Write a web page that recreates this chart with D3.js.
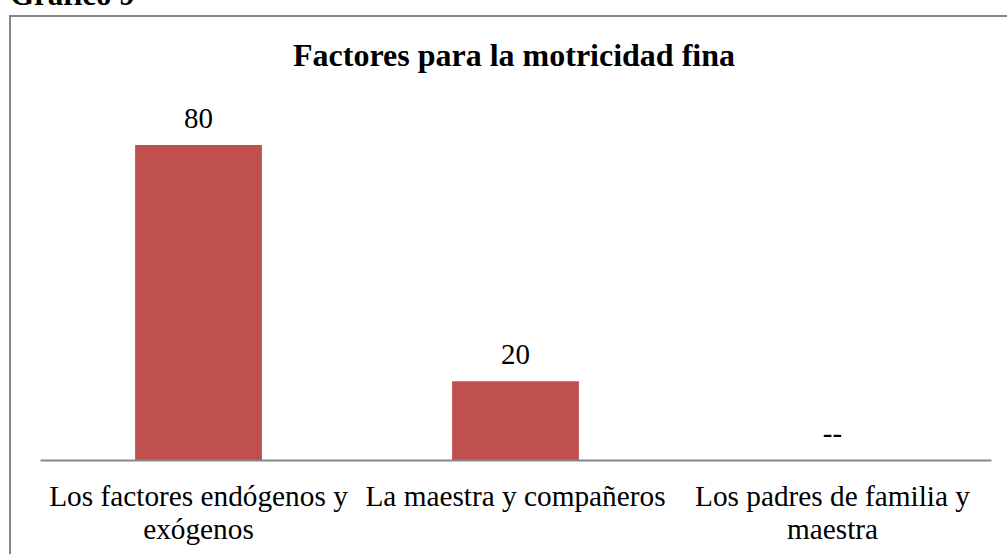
<!DOCTYPE html>
<html><head><meta charset="utf-8">
<script src="https://cdn.jsdelivr.net/npm/d3@7"></script>
<style>
html,body{margin:0;padding:0;background:#fff;overflow:hidden}
text{font-family:"Liberation Serif","Times New Roman",serif;fill:#000}
</style></head>
<body>
<svg id="c" width="1007" height="554"></svg>
<script>
const categories = [["Los factores endógenos y","exógenos"],["La maestra y compañeros"],["Los padres de familia y","maestra"]];
const values = [80, 20, null];
const valueLabels = ["80","20","--"];
const title = "Factores para la motricidad fina";
const heading = "Gráfico 9";

const svg = d3.select("#c");
svg.append("text").attr("x",10).attr("y",5).attr("font-weight","bold").attr("font-size",31).text(heading);
svg.append("rect").attr("x",10).attr("y",16).attr("width",1010).attr("height",560)
  .attr("fill","none").attr("stroke","#868686").attr("stroke-width",2);

const x = d3.scaleBand().domain(d3.range(categories.length)).range([40,991]).paddingInner(0.6).paddingOuter(0.3);
const y = d3.scaleLinear().domain([0,80]).range([460,145]);

svg.append("text").attr("x",514).attr("y",66).attr("text-anchor","middle")
  .attr("font-weight","bold").attr("font-size",32).text(title);

svg.selectAll("rect.bar").data(values).enter().append("rect").attr("class","bar")
  .attr("x",(d,i)=>x(i)).attr("width",x.bandwidth())
  .attr("y",d=>y(d||0)).attr("height",d=>y(0)-y(d||0)).attr("fill","#C0504D");

svg.selectAll("text.val").data(values).enter().append("text").attr("class","val")
  .attr("x",(d,i)=>x(i)+x.bandwidth()/2).attr("y",d=>y(d||0)-17)
  .attr("text-anchor","middle").attr("font-size",29).text((d,i)=>valueLabels[i]);

const axis = d3.axisBottom(x).tickSize(0).tickFormat("");
const g = svg.append("g").attr("transform","translate(0,460)").call(axis);
g.select(".domain").attr("stroke","#868686").attr("stroke-width",2);

categories.forEach((lines,i)=>{
  const t = svg.append("text").attr("text-anchor","middle").attr("font-size",29.3);
  lines.forEach((l,j)=>t.append("tspan").attr("x",x(i)+x.bandwidth()/2).attr("y",506+j*33).text(l));
});
</script>
</body></html>
